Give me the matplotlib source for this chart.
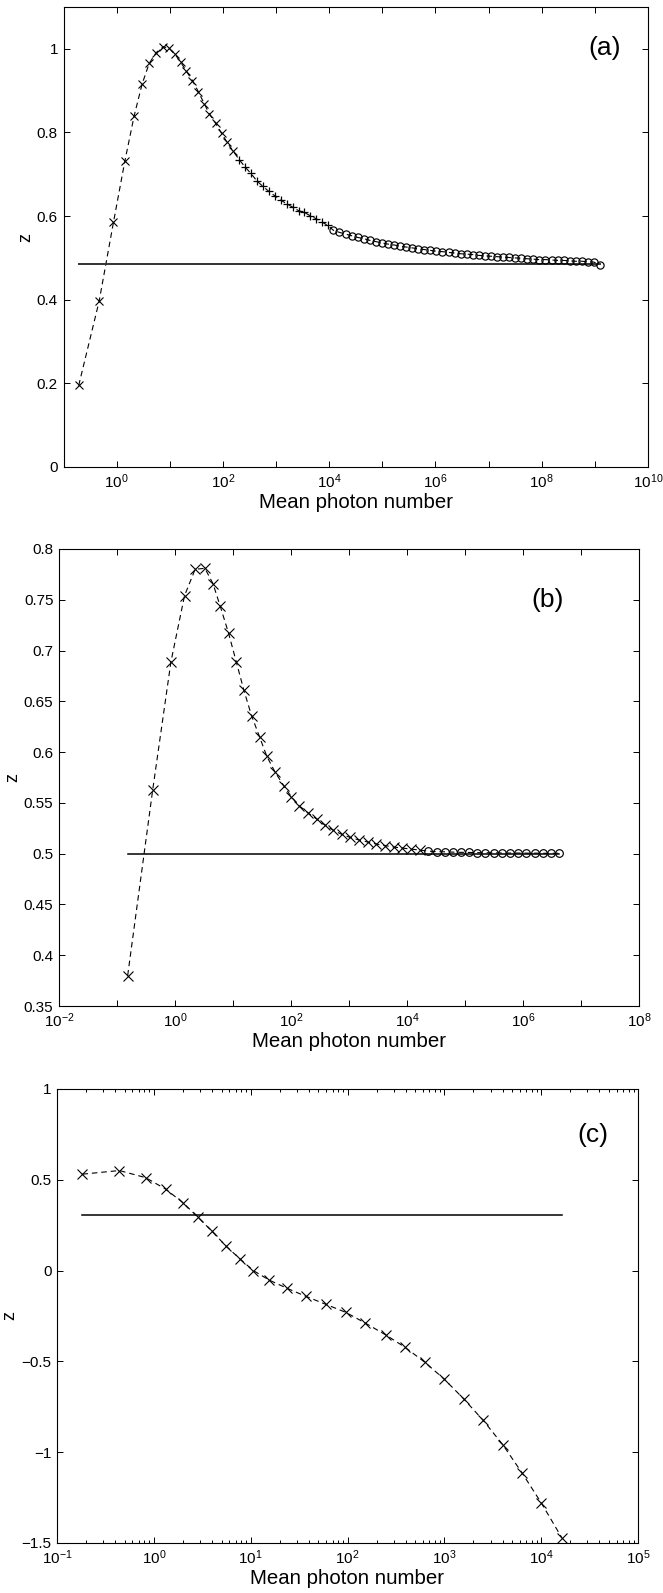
import numpy as np
import matplotlib
matplotlib.use("Agg")
import matplotlib.pyplot as plt
from matplotlib.ticker import FixedLocator, FuncFormatter, NullLocator, LogLocator

plt.rcParams['font.family'] = ['Liberation Sans', 'DejaVu Sans']
plt.rcParams['mathtext.fontset'] = 'custom'
plt.rcParams['mathtext.rm'] = 'Liberation Sans'
plt.rcParams['mathtext.it'] = 'Liberation Sans'
plt.rcParams['mathtext.bf'] = 'Liberation Sans'

# ---------------- Panel (a) data (log10 of mean photon number, z) ----------------
a_x_log = [-0.714, -0.33, -0.060, 0.154, 0.330, 0.480, 0.612, 0.744, 0.881, 0.989,
           1.096, 1.202, 1.309, 1.427, 1.540, 1.648, 1.742, 1.861, 1.974, 2.081, 2.188]
a_x_z = [0.195, 0.396, 0.585, 0.731, 0.840, 0.916, 0.965, 0.991, 1.005, 1.001,
         0.987, 0.969, 0.947, 0.924, 0.897, 0.869, 0.845, 0.822, 0.798, 0.776, 0.756]
a_p_log = [2.307, 2.420, 2.527, 2.640, 2.753, 2.866, 2.972, 3.092, 3.205, 3.318,
           3.424, 3.53, 3.64, 3.75, 3.86, 3.97]
a_p_z = [0.735, 0.717, 0.702, 0.684, 0.671, 0.659, 0.649, 0.638, 0.629, 0.621,
         0.613, 0.609, 0.601, 0.594, 0.586, 0.578]
a_o_log = [4.080, 4.194, 4.308, 4.422, 4.536, 4.650, 4.764, 4.878, 4.992, 5.106,
           5.220, 5.334, 5.448, 5.562, 5.676, 5.790, 5.904, 6.018, 6.132, 6.246,
           6.360, 6.474, 6.588, 6.702, 6.816, 6.930, 7.044, 7.158, 7.272, 7.386,
           7.500, 7.614, 7.728, 7.842, 7.956, 8.070, 8.184, 8.298, 8.412, 8.526,
           8.640, 8.754, 8.868, 8.982, 9.096]
a_o_z = [0.566, 0.561, 0.557, 0.553, 0.549, 0.546, 0.542, 0.539, 0.536, 0.533,
         0.531, 0.528, 0.526, 0.524, 0.522, 0.520, 0.518, 0.516, 0.515, 0.513,
         0.512, 0.510, 0.509, 0.508, 0.506, 0.505, 0.504, 0.503, 0.502, 0.501,
         0.500, 0.499, 0.498, 0.497, 0.496, 0.496, 0.495, 0.494, 0.494, 0.493,
         0.492, 0.492, 0.491, 0.490, 0.484]
a_ref = 0.486

# ---------------- Panel (b) data ----------------
b_x_log = [-0.816, -0.384, -0.070, 0.164, 0.347, 0.515, 0.654, 0.778, 0.924, 1.056,
           1.187, 1.319, 1.458, 1.582, 1.728, 1.874, 2.006, 2.145, 2.298, 2.444,
           2.59, 2.73, 2.875, 3.02, 3.17, 3.32, 3.47, 3.62, 3.77, 3.92, 4.07, 4.22]
b_x_z = [0.380, 0.563, 0.689, 0.754, 0.780, 0.781, 0.766, 0.744, 0.717, 0.689,
         0.661, 0.636, 0.615, 0.596, 0.580, 0.567, 0.556, 0.547, 0.540, 0.534,
         0.528, 0.523, 0.519, 0.516, 0.5135, 0.5115, 0.5095, 0.508, 0.5065, 0.5055,
         0.5045, 0.5035]
b_o_log = [4.37, 4.51, 4.65, 4.79, 4.93, 5.07, 5.21, 5.35, 5.50, 5.64,
           5.78, 5.92, 6.06, 6.20, 6.34, 6.48, 6.62]
b_o_z = [0.5025, 0.5020, 0.5018, 0.5015, 0.5013, 0.5012, 0.5010, 0.5009, 0.5008, 0.5007,
         0.5006, 0.5006, 0.5005, 0.5005, 0.5004, 0.5004, 0.5004]
b_ref = 0.5

# ---------------- Panel (c) data ----------------
c_x_log = [-0.737, -0.356, -0.085, 0.121, 0.301, 0.454, 0.599, 0.748, 0.888, 1.028,
           1.194, 1.378, 1.571, 1.773, 1.983, 2.184, 2.395, 2.596, 2.802, 3.000,
           3.201, 3.402, 3.604, 3.805, 4.002, 4.212]
c_x_z = [0.531, 0.551, 0.512, 0.449, 0.374, 0.295, 0.217, 0.134, 0.065, 0.000,
         -0.053, -0.098, -0.142, -0.185, -0.230, -0.289, -0.354, -0.423, -0.506, -0.598,
         -0.707, -0.825, -0.959, -1.116, -1.280, -1.470]
c_ref = 0.305

xlabel_text = "Mean photon number"
ylabel_text = "z"

W, H = 663, 1593
fig = plt.figure(figsize=(W / 100, H / 100), dpi=100)


def style_axes(ax):
    for s in ax.spines.values():
        s.set_linewidth(0.8)
        s.set_color('black')
    ax.tick_params(which='both', direction='in', top=True, right=True,
                   labelsize=11, width=0.7, colors='black')
    ax.tick_params(which='major', length=4.5, pad=4)
    ax.tick_params(which='minor', length=2.3)
    ax.set_xlabel(xlabel_text, fontsize=14.7, labelpad=1)
    ax.set_ylabel(ylabel_text, fontsize=13, labelpad=2)


def pow_fmt(even_only):
    def f(v, pos):
        e = int(round(np.log10(v)))
        if even_only and e % 2 != 0:
            return ''
        return r'$\mathregular{10^{%d}}$' % e
    return FuncFormatter(f)


dash = (0, (5, 3.5))

# ----- (a) -----
axa = fig.add_axes([63.5 / W, 1 - 467 / H, (648 - 63.5) / W, 460 / H])
all_log_a = a_x_log + a_p_log + a_o_log
all_z_a = a_x_z + a_p_z + a_o_z
axa.plot(10 ** np.array(all_log_a), all_z_a, color='black', lw=0.8, linestyle=dash)
axa.plot([10 ** all_log_a[0], 10 ** all_log_a[-1]], [a_ref, a_ref], color='#333333', lw=1.4)
axa.plot(10 ** np.array(a_x_log), a_x_z, 'x', color='black', ms=6, mew=0.8)
axa.plot(10 ** np.array(a_p_log), a_p_z, '+', color='black', ms=6, mew=0.9)
axa.plot(10 ** np.array(a_o_log), a_o_z, 'o', mfc='none', mec='black', ms=5.2, mew=0.85)
axa.set_xscale('log')
axa.set_xlim(0.1, 1e10)
axa.set_ylim(0, 1.1)
axa.xaxis.set_major_locator(FixedLocator([10.0 ** e for e in range(-1, 11)]))
axa.xaxis.set_major_formatter(pow_fmt(True))
axa.xaxis.set_minor_locator(NullLocator())
axa.set_yticks([0, 0.2, 0.4, 0.6, 0.8, 1.0])
axa.set_yticklabels(['0', '0.2', '0.4', '0.6', '0.8', '1'])
style_axes(axa)
axa.text(0.926, 0.911, '(a)', transform=axa.transAxes, fontsize=19, ha='center', va='center')

# ----- (b) -----
axb = fig.add_axes([59 / W, 1 - 1006 / H, (639 - 59) / W, 457 / H])
all_log_b = b_x_log + b_o_log
all_z_b = b_x_z + b_o_z
axb.plot(10 ** np.array(all_log_b), all_z_b, color='black', lw=0.8, linestyle=dash)
axb.plot([10 ** all_log_b[0], 10 ** all_log_b[-1]], [b_ref, b_ref], color='black', lw=1.1)
axb.plot(10 ** np.array(b_x_log), b_x_z, 'x', color='black', ms=6.5, mew=0.8)
axb.plot(10 ** np.array(b_o_log), b_o_z, 'o', mfc='none', mec='black', ms=5.5, mew=0.85)
axb.set_xscale('log')
axb.set_xlim(1e-2, 1e8)
axb.set_ylim(0.35, 0.8)
axb.xaxis.set_major_locator(FixedLocator([10.0 ** e for e in range(-2, 9)]))
axb.xaxis.set_major_formatter(pow_fmt(True))
axb.xaxis.set_minor_locator(NullLocator())
bt = [0.35, 0.4, 0.45, 0.5, 0.55, 0.6, 0.65, 0.7, 0.75, 0.8]
axb.set_yticks(bt)
axb.set_yticklabels(['0.35', '0.4', '0.45', '0.5', '0.55', '0.6', '0.65', '0.7', '0.75', '0.8'])
style_axes(axb)
axb.text(0.843, 0.888, '(b)', transform=axb.transAxes, fontsize=19, ha='center', va='center')

# ----- (c) -----
axc = fig.add_axes([57 / W, 1 - 1543 / H, (638 - 57) / W, 454 / H])
axc.plot(10 ** np.array(c_x_log), c_x_z, color='black', lw=0.8, linestyle=dash)
axc.plot([10 ** c_x_log[0], 10 ** c_x_log[-1]], [c_ref, c_ref], color='black', lw=1.1)
axc.plot(10 ** np.array(c_x_log), c_x_z, 'x', color='black', ms=6.5, mew=0.8)
axc.set_xscale('log')
axc.set_xlim(1e-1, 1e5)
axc.set_ylim(-1.5, 1)
axc.xaxis.set_major_locator(FixedLocator([10.0 ** e for e in range(-1, 6)]))
axc.xaxis.set_major_formatter(pow_fmt(False))
axc.xaxis.set_minor_locator(LogLocator(base=10, subs=np.arange(2, 10)))
axc.set_yticks([-1.5, -1, -0.5, 0, 0.5, 1])
axc.set_yticklabels(['\u22121.5', '\u22121', '\u22120.5', '0', '0.5', '1'])
style_axes(axc)
axc.text(0.922, 0.899, '(c)', transform=axc.transAxes, fontsize=19, ha='center', va='center')

fig.savefig('out.png', dpi=100)
